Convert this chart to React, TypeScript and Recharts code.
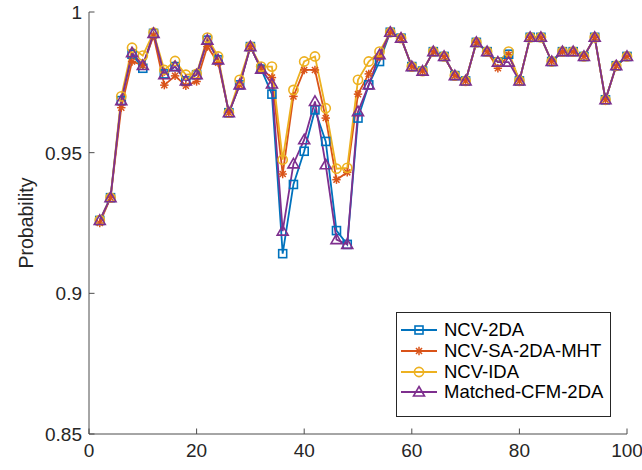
import React from "react";
import { LineChart, Line, XAxis, YAxis, Legend } from "recharts";

const xs = [
  2, 4, 6, 8, 10, 12, 14, 16, 18, 20, 22, 24, 26, 28, 30, 32, 34, 36, 38, 40,
  42, 44, 46, 48, 50, 52, 54, 56, 58, 60, 62, 64, 66, 68, 70, 72, 74, 76, 78, 80,
  82, 84, 86, 88, 90, 92, 94, 96, 98, 100,
];

const ncv2da = [
  0.9259, 0.934, 0.9685, 0.985, 0.98, 0.9924, 0.978, 0.9806, 0.9755, 0.9777,
  0.99, 0.983, 0.9642, 0.9741, 0.9877, 0.9797, 0.9708, 0.9141, 0.9387, 0.9505,
  0.9652, 0.954, 0.9223, 0.9174, 0.9623, 0.9741, 0.9824, 0.9928, 0.9907, 0.9806,
  0.979, 0.9859, 0.9842, 0.9774, 0.9755, 0.9892, 0.9859, 0.9822, 0.985, 0.9755,
  0.991, 0.991, 0.9824, 0.9859, 0.9859, 0.9842, 0.991, 0.9688, 0.9809, 0.9842,
];

const ncvSaMht = [
  0.925, 0.934, 0.966, 0.9824, 0.981, 0.9915, 0.974, 0.9773, 0.9738, 0.9753,
  0.9877, 0.982, 0.9642, 0.9741, 0.9877, 0.9797, 0.9767, 0.9424, 0.97, 0.9794,
  0.9794, 0.9623, 0.9404, 0.943, 0.9708, 0.978, 0.984, 0.9928, 0.9907, 0.9806,
  0.979, 0.9859, 0.9842, 0.9774, 0.9755, 0.9892, 0.9859, 0.98, 0.9848, 0.9755,
  0.991, 0.991, 0.9824, 0.9859, 0.9859, 0.9842, 0.991, 0.9688, 0.9809, 0.9842,
];

const ncvIda = [
  0.926, 0.934, 0.97, 0.9873, 0.9845, 0.9927, 0.9794, 0.9826, 0.9777, 0.978,
  0.9909, 0.9842, 0.9642, 0.9759, 0.9877, 0.9806, 0.9806, 0.9475, 0.9723, 0.9824,
  0.9842, 0.9658, 0.9443, 0.9446, 0.9759, 0.9824, 0.9859, 0.9928, 0.9907, 0.9806,
  0.979, 0.9859, 0.9842, 0.9774, 0.9755, 0.9892, 0.9859, 0.9822, 0.9859, 0.9755,
  0.991, 0.991, 0.9824, 0.9859, 0.9859, 0.9842, 0.991, 0.9688, 0.9809, 0.9842,
];

const matchedCfm = [
  0.9259, 0.934, 0.9685, 0.9855, 0.981, 0.9924, 0.9777, 0.9806, 0.9755, 0.9777,
  0.99, 0.983, 0.9642, 0.9741, 0.9877, 0.9797, 0.9744, 0.9221, 0.946, 0.9546,
  0.9682, 0.9457, 0.9191, 0.9174, 0.9646, 0.9741, 0.9848, 0.9928, 0.9907, 0.9806,
  0.979, 0.9859, 0.9842, 0.9774, 0.9755, 0.9892, 0.9859, 0.9822, 0.9822, 0.9755,
  0.991, 0.991, 0.9824, 0.9859, 0.9859, 0.9842, 0.991, 0.9688, 0.9809, 0.9842,
];

const xTicks = [0, 20, 40, 60, 80, 100];
const yTicks = [0.85, 0.9, 0.95, 1];
const yTickLabels = ["0.85", "0.9", "0.95", "1"];

const seriesNames = ["NCV-2DA", "NCV-SA-2DA-MHT", "NCV-IDA", "Matched-CFM-2DA"];

const data = xs.map((x, i) => ({
  x,
  a: ncv2da[i],
  b: ncvSaMht[i],
  c: ncvIda[i],
  d: matchedCfm[i],
}));

const FONT = "'Liberation Sans', Arial, Helvetica, sans-serif";
const AXIS = "#4d4d4d";
const TEXT = "#262626";
const TICK = 5.5;
const LW = 1.8;

const colors = ["#0072BD", "#D95319", "#EDB120", "#7E2F8E"];

type Mk = "square" | "star" | "circle" | "triangle";
const markers: Mk[] = ["square", "star", "circle", "triangle"];

function Marker({ kind, cx, cy, color }: { kind: Mk; cx: number; cy: number; color: string }) {
  if (kind === "square") {
    return <rect x={cx - 4} y={cy - 4} width={8} height={8} fill="none" stroke={color} strokeWidth={1.6} />;
  }
  if (kind === "circle") {
    return <circle cx={cx} cy={cy} r={4.6} fill="none" stroke={color} strokeWidth={1.6} />;
  }
  if (kind === "triangle") {
    return (
      <polygon
        points={`${cx},${cy - 5.5} ${cx + 5.5},${cy + 4} ${cx - 5.5},${cy + 4}`}
        fill="none"
        stroke={color}
        strokeWidth={1.6}
        strokeLinejoin="miter"
      />
    );
  }
  const r = 4.2;
  const d = r * 0.72;
  return (
    <g stroke={color} strokeWidth={1.5}>
      <line x1={cx - r} y1={cy} x2={cx + r} y2={cy} />
      <line x1={cx} y1={cy - r} x2={cx} y2={cy + r} />
      <line x1={cx - d} y1={cy - d} x2={cx + d} y2={cy + d} />
      <line x1={cx - d} y1={cy + d} x2={cx + d} y2={cy - d} />
    </g>
  );
}

function makeDot(kind: Mk, color: string) {
  return (props: any) => {
    const { cx, cy, index } = props;
    if (cx == null || cy == null) return <g key={index} />;
    return <Marker key={index} kind={kind} cx={cx} cy={cy} color={color} />;
  };
}

function BottomTick(props: any) {
  const { x, y, payload } = props;
  const axisY = y - 8;
  return (
    <g>
      <line x1={x} y1={axisY} x2={x} y2={axisY - TICK} stroke={AXIS} />
      <text x={x} y={y} dy={15} textAnchor="middle" fontSize={19} fill={TEXT} fontFamily={FONT}>
        {payload.value}
      </text>
    </g>
  );
}

function LeftTick(props: any) {
  const { x, y, payload } = props;
  const axisX = x + 7;
  const idx = yTicks.indexOf(payload.value);
  return (
    <g>
      <line x1={axisX} y1={y} x2={axisX + TICK} y2={y} stroke={AXIS} />
      <text x={x} y={y} dy={7} textAnchor="end" fontSize={19} fill={TEXT} fontFamily={FONT}>
        {idx >= 0 ? yTickLabels[idx] : payload.value}
      </text>
    </g>
  );
}

function TopTick(props: any) {
  const { x, y } = props;
  return <line x1={x} y1={y} x2={x} y2={y + TICK} stroke={AXIS} />;
}

function RightTick(props: any) {
  const { x, y } = props;
  return <line x1={x} y1={y} x2={x - TICK} y2={y} stroke={AXIS} />;
}

function LegendBox() {
  return (
    <div
      style={{
        width: 215,
        height: 105,
        border: "1px solid #262626",
        background: "#fff",
        boxSizing: "border-box",
        paddingTop: 7,
        fontFamily: FONT,
      }}
    >
      {seriesNames.map((name, i) => (
        <div key={name} style={{ display: "flex", alignItems: "center", height: 20.7 }}>
          <svg width={44} height={20} style={{ marginLeft: 3 }}>
            <line x1={1} y1={10} x2={37} y2={10} stroke={colors[i]} strokeWidth={LW} />
            <Marker kind={markers[i]} cx={19} cy={10} color={colors[i]} />
          </svg>
          <span style={{ fontSize: 18.5, color: "#000", whiteSpace: "nowrap", lineHeight: "20px" }}>{name}</span>
        </div>
      ))}
    </div>
  );
}

export default function App() {
  const keys = ["a", "b", "c", "d"];
  return (
    <div style={{ position: "absolute", left: 0, top: 0, background: "#fff" }}>
      <LineChart width={642} height={470} data={data} margin={{ top: 12, right: 15, bottom: 6, left: 0 }}>
        <XAxis
          dataKey="x"
          type="number"
          domain={[0, 100]}
          ticks={xTicks}
          height={30}
          tickSize={0}
          tickMargin={8}
          tickLine={false}
          axisLine={{ stroke: AXIS }}
          tick={<BottomTick />}
          interval={0}
        />
        <XAxis
          xAxisId="top"
          orientation="top"
          dataKey="x"
          type="number"
          domain={[0, 100]}
          ticks={xTicks}
          height={0}
          tickSize={0}
          tickMargin={0}
          tickLine={false}
          axisLine={{ stroke: AXIS }}
          tick={<TopTick />}
          interval={0}
        />
        <YAxis
          type="number"
          domain={[0.85, 1]}
          ticks={yTicks}
          width={89}
          tickSize={0}
          tickMargin={7}
          tickLine={false}
          axisLine={{ stroke: AXIS }}
          tick={<LeftTick />}
          interval={0}
          allowDataOverflow
          label={{
            content: (p: any) => {
              const vb = p.viewBox;
              const cx = vb.x + 26;
              const cy = vb.y + vb.height / 2;
              return (
                <text
                  x={cx}
                  y={cy}
                  transform={`rotate(-90 ${cx} ${cy})`}
                  textAnchor="middle"
                  dominantBaseline="central"
                  fontSize={19.5}
                  fill={TEXT}
                  fontFamily={FONT}
                >
                  Probability
                </text>
              );
            },
          }}
        />
        <YAxis
          yAxisId="right"
          orientation="right"
          type="number"
          domain={[0.85, 1]}
          ticks={yTicks}
          width={0}
          tickSize={0}
          tickMargin={0}
          tickLine={false}
          axisLine={{ stroke: AXIS }}
          tick={<RightTick />}
          interval={0}
          allowDataOverflow
        />
        {keys.map((k, i) => (
          <Line
            key={k}
            dataKey={k}
            name={seriesNames[i]}
            type="linear"
            stroke={colors[i]}
            strokeWidth={LW}
            dot={makeDot(markers[i], colors[i])}
            activeDot={false}
            isAnimationActive={false}
          />
        ))}
        <Legend
          layout="vertical"
          align="center"
          verticalAlign="middle"
          content={<LegendBox />}
          wrapperStyle={{ position: "absolute", left: 396, top: 312, width: 215, height: 105 }}
        />
      </LineChart>
    </div>
  );
}
